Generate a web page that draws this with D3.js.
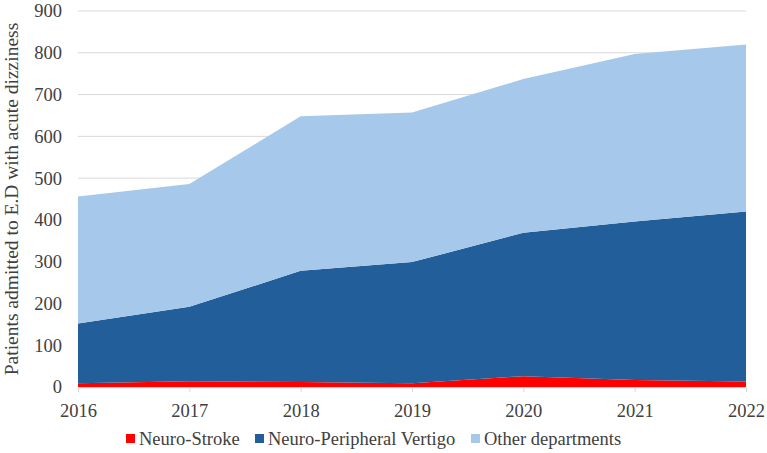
<!DOCTYPE html>
<html>
<head>
<meta charset="utf-8">
<script src="https://cdn.jsdelivr.net/npm/d3@7"></script>
<style>
  body { margin: 0; background: #fff; }
  svg text { font-family: "Liberation Serif", "Times New Roman", serif !important; }
</style>
</head>
<body>
<svg></svg>
<script>
const years = [2016, 2017, 2018, 2019, 2020, 2021, 2022]
const strokeVals = [9, 14, 12, 9, 26, 17, 13]
const vertigoVals = [143, 178, 266, 290, 343, 379, 407]
const otherVals = [304, 294, 370, 358, 368, 401, 400]
const seriesNames = ['Neuro-Stroke', 'Neuro-Peripheral Vertigo', 'Other departments']
const seriesColors = ['#ff0000', '#225e99', '#a6c8ea']
const yTicks = [0, 100, 200, 300, 400, 500, 600, 700, 800, 900]

let width = 767
let height = 453
let plotLeft = 78
let plotRight = 746
let plotTop = 11
let plotBottom = 387
let serif = '"Liberation Serif", "Times New Roman", serif'

let table = years.map((y, i) => ({
  year: y,
  s0: strokeVals[i],
  s1: vertigoVals[i],
  s2: otherVals[i]
}))

let stack = d3.stack().keys(['s0', 's1', 's2'])
let layers = stack(table)

let xScale = d3.scaleLinear()
                .domain(d3.extent(years))
                .range([plotLeft, plotRight])

let yScale = d3.scaleLinear()
                .domain([0, 900])
                .range([plotBottom, plotTop])

let svg = d3.select('svg')
    .attr('width', width)
    .attr('height', height)
    .attr('font-family', serif)

// gridlines
svg.append('g')
  .selectAll('line')
  .data(yTicks.slice(1))
  .enter()
  .append('line')
    .attr('x1', plotLeft)
    .attr('x2', plotRight)
    .attr('y1', d => yScale(d))
    .attr('y2', d => yScale(d))
    .attr('stroke', '#d9d9d9')
    .attr('stroke-width', 1)

let area = d3.area()
    .x(d => xScale(d.data.year))
    .y0(d => yScale(d[0]))
    .y1(d => yScale(d[1]))

svg.append('g')
  .selectAll('path')
  .data(layers)
  .enter()
  .append('path')
    .attr('d', area)
    .attr('fill', (d, i) => seriesColors[i])

// x axis
let xAxis = d3.axisBottom(xScale)
              .tickValues(years)
              .tickFormat(d3.format('d'))
              .tickSize(5)
              .tickSizeOuter(0)

let gx = svg.append('g')
    .attr('transform', `translate(0, ${plotBottom})`)
    .call(xAxis)
    .attr('font-family', serif)
    .attr('font-size', 18.5)
gx.select('.domain').attr('stroke', '#d9d9d9')
gx.selectAll('.tick line').attr('stroke', '#d9d9d9')
gx.selectAll('.tick text')
    .attr('dy', '0')
    .attr('y', 30)
    .attr('fill', '#404040')

// y axis
let yAxis = d3.axisLeft(yScale)
              .tickValues(yTicks)
              .tickSize(0)
              .tickPadding(16)

let gy = svg.append('g')
    .attr('transform', `translate(${plotLeft}, 0)`)
    .call(yAxis)
    .attr('font-family', serif)
    .attr('font-size', 18.5)
gy.select('.domain').remove()
gy.selectAll('.tick text')
    .attr('fill', '#404040')

// y-axis label
svg.append('text')
    .attr('transform', 'rotate(-90)')
    .attr('x', -(plotTop + plotBottom) / 2)
    .attr('y', 18)
    .attr('text-anchor', 'middle')
    .attr('font-size', 19.5)
    .attr('fill', '#404040')
    .text('Patients admitted to E.D with acute dizziness')

// legend
let legendX = [126, 255, 471]
let legend = svg.append('g')
  .selectAll('g')
  .data(seriesNames)
  .enter()
  .append('g')
    .attr('transform', (d, i) => `translate(${legendX[i]}, 439)`)

legend.append('rect')
    .attr('x', 0)
    .attr('y', -5)
    .attr('width', 9)
    .attr('height', 9)
    .attr('fill', (d, i) => seriesColors[i])

legend.append('text')
    .attr('x', 13)
    .attr('y', 6)
    .attr('font-size', 18.5)
    .attr('fill', '#404040')
    .text(d => d)
</script>
</body>
</html>
